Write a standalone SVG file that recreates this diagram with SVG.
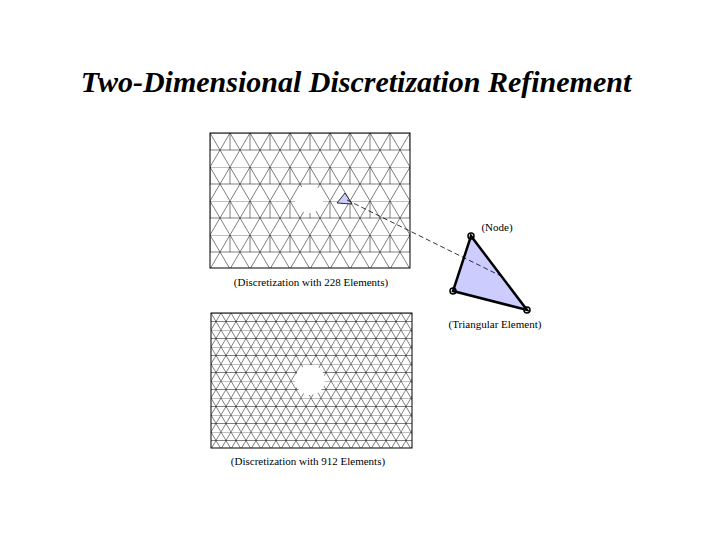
<svg xmlns="http://www.w3.org/2000/svg" width="720" height="540" viewBox="0 0 720 540">
<style>
.t{font-family:"Liberation Serif",serif;font-size:11px;text-anchor:middle;fill:#000}
.mesh{stroke:#000;stroke-width:0.5;fill:none}
</style>
<defs>
<pattern id="p1" width="20" height="34" patternUnits="userSpaceOnUse" x="210" y="133">
<path class="mesh" d="M0 0H20M0 17H20M0 0L10 17L20 0M10 17L0 34M10 17L20 34M0 17L0 0M20 17V0"/>
</pattern>
<pattern id="p2" width="10" height="17" patternUnits="userSpaceOnUse" x="211" y="313">
<path class="mesh" d="M0 0H10M0 8.5H10M0 0L5 8.5L10 0M5 8.5L0 17M5 8.5L10 17"/>
</pattern>
</defs>
<rect width="720" height="540" fill="#fff"/>
<text x="356" y="92" font-family="Liberation Serif,serif" font-size="30" font-style="italic" font-weight="bold" text-anchor="middle">Two-Dimensional Discretization Refinement</text>
<g id="mesh228">
<rect x="210" y="133" width="200" height="135" fill="url(#p1)" stroke="#000" stroke-width="1"/>
<circle cx="309" cy="199" r="14" fill="#fff"/>
<polygon points="337,203 345,193 352,204" fill="#ccccff" stroke="#000" stroke-width="0.8"/>
<text class="t" x="311" y="286">(Discretization with 228 Elements)</text>
</g>
<g id="mesh912">
<rect x="211" y="313" width="201" height="135" fill="url(#p2)" stroke="#000" stroke-width="1"/>
<circle cx="310" cy="380" r="15" fill="#fff"/>
<text class="t" x="308" y="465">(Discretization with 912 Elements)</text>
</g>
<g id="element">
<polygon points="471,236 453,291 527,310" fill="#ccccff" stroke="#000" stroke-width="2.5"/>
<circle cx="471" cy="236" r="3" fill="none" stroke="#000" stroke-width="1.5"/>
<circle cx="453" cy="291" r="3" fill="none" stroke="#000" stroke-width="1.5"/>
<circle cx="527" cy="310" r="3" fill="none" stroke="#000" stroke-width="1.5"/>
<text class="t" x="497" y="231">(Node)</text>
<text class="t" x="495" y="328">(Triangular Element)</text>
</g>
<g id="connectors">
<line x1="347" y1="200" x2="503" y2="277" stroke="#000" stroke-dasharray="5,3" stroke-width="0.8"/>
</g>
</svg>
